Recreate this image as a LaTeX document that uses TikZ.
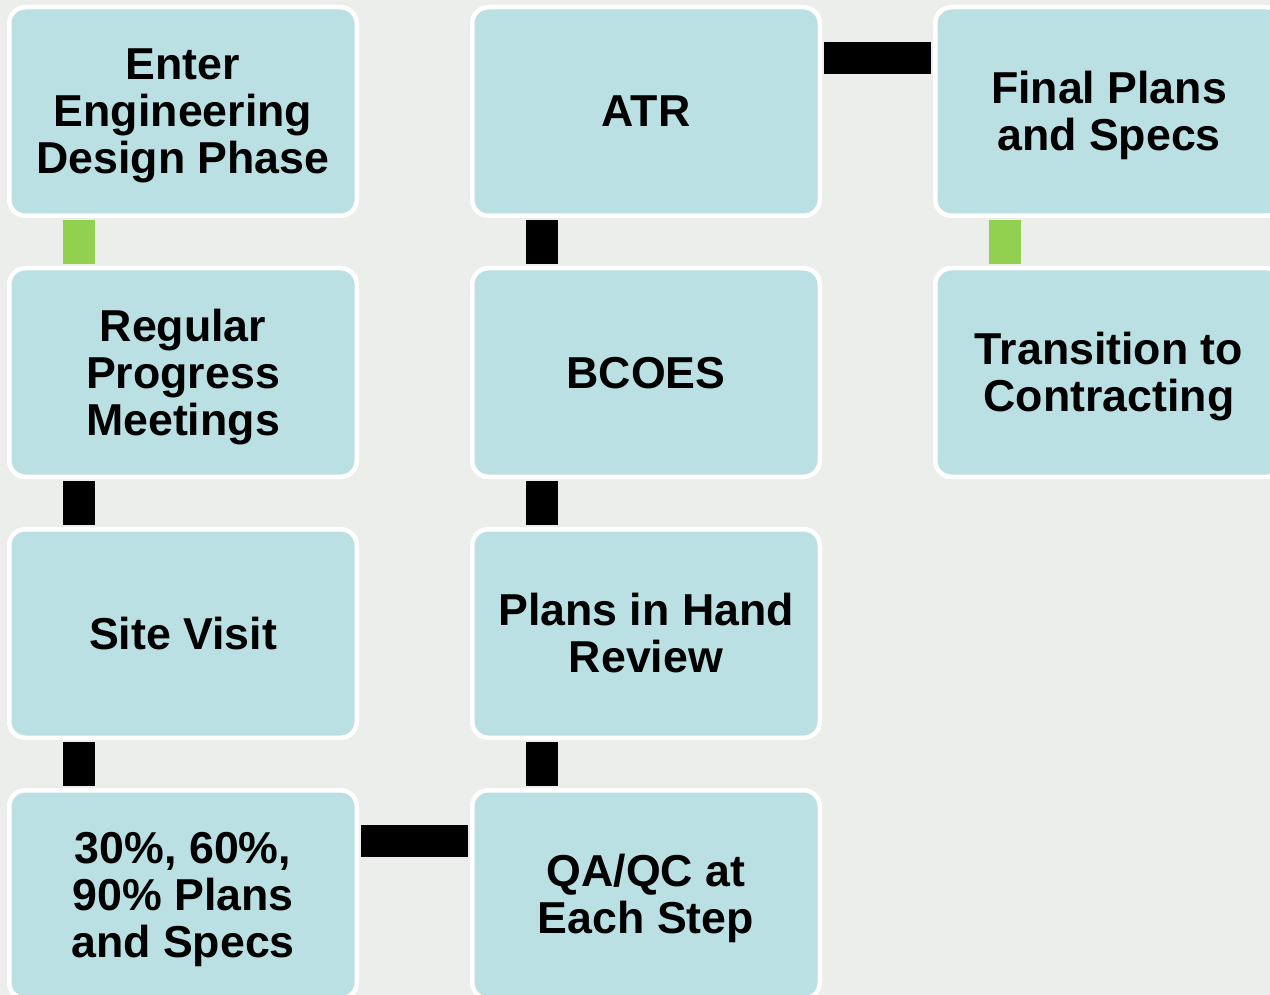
\documentclass[tikz,border=0pt]{standalone}
\usepackage{fontspec}
\setmainfont{Liberation Sans}
\definecolor{bg}{HTML}{ECEEEC}
\definecolor{boxfill}{HTML}{BBE0E3}
\definecolor{greenbar}{HTML}{92D050}
\newcommand{\tstrut}{\rule{0pt}{40.5pt}}
\newcommand{\dstrut}{\rule[-9.5pt]{0pt}{9.5pt}}
\tikzset{
  stepbox/.style={draw=white, line width=4.5pt, fill=boxfill, rounded corners=16pt,
    minimum width=347.5pt, minimum height=208.5pt, inner sep=0pt, align=center,
    font=\fontsize{44.7}{47}\selectfont\bfseries, text=black},
  vbar/.style={line width=32pt, shorten <=2.25pt, shorten >=2.25pt},
  hbar/.style={line width=32pt, shorten <=2.25pt, shorten >=2.25pt},
}
\begin{document}
\begin{tikzpicture}[x=1pt,y=-1pt]
\fill[bg] (0,0) rectangle (1270,995);
\clip (0,0) rectangle (1270,995);
% column 1
\node[stepbox] (enter) at (183,111.5) {\tstrut Enter\\Engineering\\Design Phase\dstrut};
\node[stepbox] (regular) at (183,372.5) {\tstrut Regular\\Progress\\Meetings\dstrut};
\node[stepbox] (site) at (183,633.5) {\tstrut Site Visit\dstrut};
\node[stepbox] (plans) at (183,894.5) {\tstrut 30\%, 60\%,\\90\% Plans\\and Specs\dstrut};
% column 2
\node[stepbox] (atr) at (646,111.5) {\tstrut ATR\dstrut};
\node[stepbox] (bcoes) at (646,372.5) {\tstrut BCOES\dstrut};
\node[stepbox] (pih) at (646,633.5) {\tstrut Plans in Hand\\Review\dstrut};
\node[stepbox] (qaqc) at (646,894.5) {\tstrut QA/QC at\\Each Step\dstrut};
% column 3
\node[stepbox] (final) at (1109,111.5) {\tstrut Final Plans\\and Specs\dstrut};
\node[stepbox] (trans) at (1109,372.5) {\tstrut Transition to\\Contracting\dstrut};
% connectors
\draw[vbar, greenbar] ([xshift=71.75pt]enter.south west) -- ([xshift=71.75pt]regular.north west);
\draw[vbar, black] ([xshift=71.75pt]regular.south west) -- ([xshift=71.75pt]site.north west);
\draw[vbar, black] ([xshift=71.75pt]site.south west) -- ([xshift=71.75pt]plans.north west);
\draw[hbar, black] ([yshift=-52.75pt]plans.north east) -- ([yshift=-52.75pt]qaqc.north west);
\draw[vbar, black] ([xshift=71.75pt]qaqc.north west) -- ([xshift=71.75pt]pih.south west);
\draw[vbar, black] ([xshift=71.75pt]pih.north west) -- ([xshift=71.75pt]bcoes.south west);
\draw[vbar, black] ([xshift=71.75pt]bcoes.north west) -- ([xshift=71.75pt]atr.south west);
\draw[hbar, black] ([yshift=-52.75pt]atr.north east) -- ([yshift=-52.75pt]final.north west);
\draw[vbar, greenbar] ([xshift=71.75pt]final.south west) -- ([xshift=71.75pt]trans.north west);
\end{tikzpicture}
\end{document}
